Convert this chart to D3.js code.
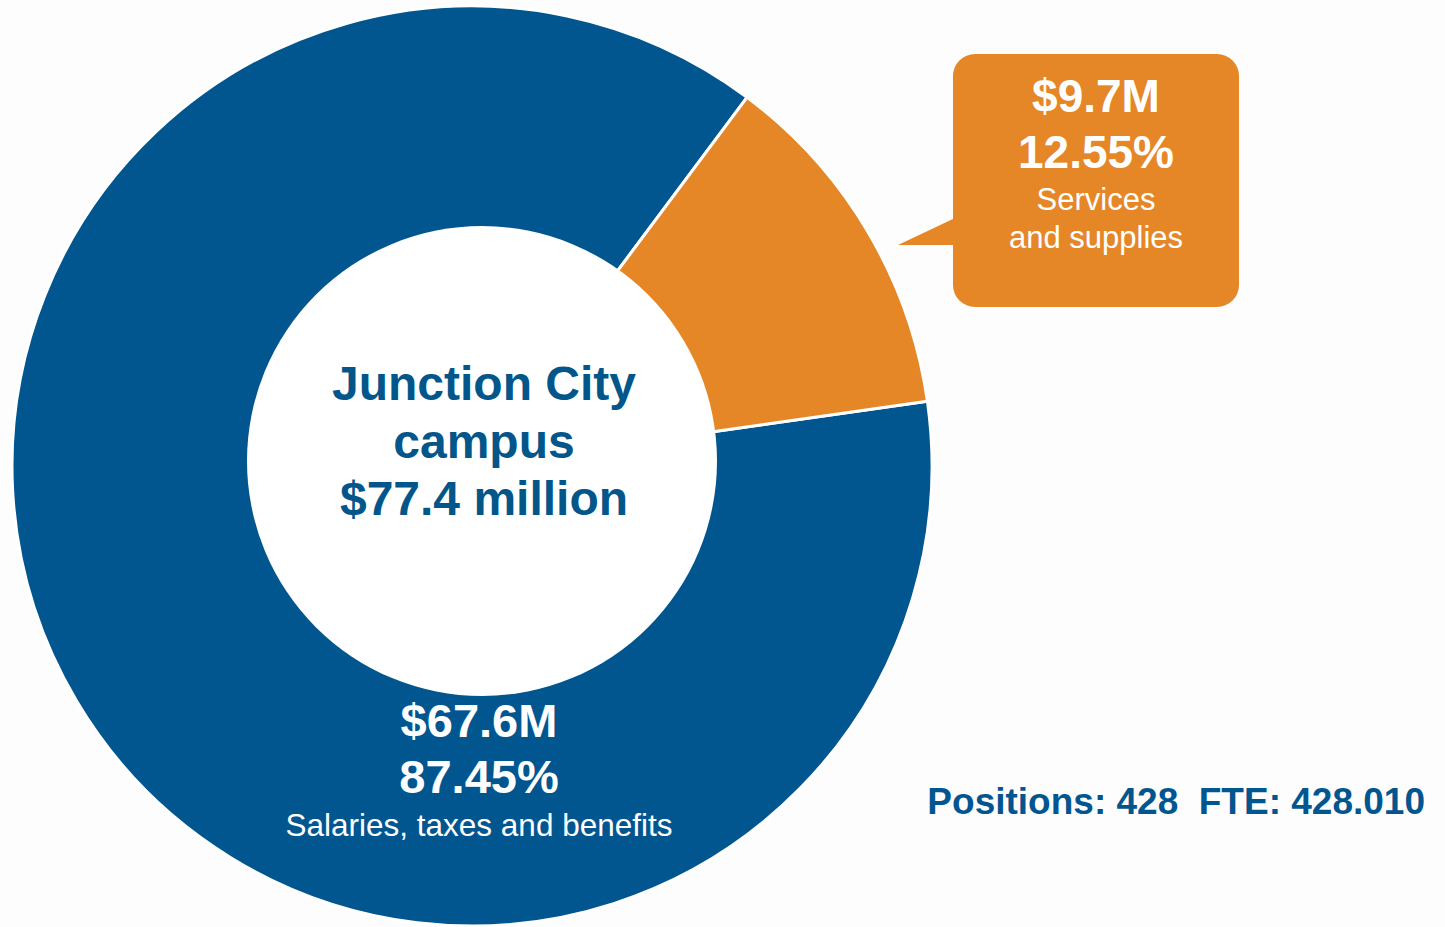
<!DOCTYPE html>
<html>
<head>
<meta charset="utf-8">
<script src="https://cdn.jsdelivr.net/npm/d3@7"></script>
<style>
  body { margin: 0; background: #fdfdfd; }
  svg { display: block; font-family: "Liberation Sans", Arial, sans-serif; }
  .pre { white-space: pre; }
</style>
</head>
<body>
<div id="donut"></div>
<script>
// data
var categories = ['Salaries, taxes and benefits', 'Services and supplies'];
var amounts = ['$67.6M', '$9.7M'];
var percents = [87.45, 12.55];
var centerLines = ['Junction City', 'campus', '$77.4 million'];
var footer = 'Positions: 428  FTE: 428.010';

var width = 1445,
    height = 927;

var cx = 472, cy = 466,
    outerR = 460,
    holeX = 482, holeY = 461, holeR = 235;

var color = d3.scaleOrdinal()
    .domain(categories)
    .range(['#02568f', '#e68727']);

var svg = d3.select('#donut').append('svg')
    .attr('width', width)
    .attr('height', height);

var deg = Math.PI / 180;
var pie = d3.pie()
    .sort(null)
    .value(function(d) { return d.value; })
    .startAngle(81.9 * deg)
    .endAngle(81.9 * deg + 2 * Math.PI);

var arc = d3.arc()
    .innerRadius(0)
    .outerRadius(outerR);

var slices = pie(categories.map(function(c, i) {
  return {key: c, value: percents[i]};
}));

var g = svg.append('g')
    .attr('transform', 'translate(' + cx + ',' + cy + ')');

g.selectAll('path')
  .data(slices)
    .enter().append('path')
  .attr('d', arc)
  .style('fill', function(d) { return color(d.data.key); })
  .style('stroke', '#fff')
  .style('stroke-width', 3)
  .style('stroke-linejoin', 'miter');

// white hole (sits a little off centre, as in the original)
svg.append('circle')
  .attr('cx', holeX)
  .attr('cy', holeY)
  .attr('r', holeR)
  .style('fill', '#fff');

// centre title
svg.append('text')
  .attr('text-anchor', 'middle')
  .style('fill', '#03568a')
  .style('font-weight', 'bold')
  .style('font-size', '48px')
  .selectAll('tspan')
  .data(centerLines)
    .enter().append('tspan')
  .attr('x', 484)
  .attr('y', function(d, i) { return 400 + i * 57.5; })
  .text(function(d) { return d; });

// salaries label inside the blue ring
var big = svg.append('text')
  .attr('text-anchor', 'middle')
  .style('fill', '#fff');
big.append('tspan')
  .attr('x', 479).attr('y', 737)
  .style('font-weight', 'bold').style('font-size', '47px')
  .text(amounts[0]);
big.append('tspan')
  .attr('x', 479).attr('y', 793)
  .style('font-weight', 'bold').style('font-size', '47px')
  .text(d3.format('.2f')(percents[0]) + '%');
big.append('tspan')
  .attr('x', 479).attr('y', 836)
  .style('font-size', '31.5px')
  .text(categories[0]);

// callout for services and supplies
var callout = svg.append('g');
callout.append('rect')
  .attr('x', 953).attr('y', 54)
  .attr('width', 286).attr('height', 253)
  .attr('rx', 22)
  .style('fill', color(categories[1]));
callout.append('path')
  .attr('d', 'M955,218L898,245L955,245Z')
  .style('fill', color(categories[1]));

var small = callout.append('text')
  .attr('text-anchor', 'middle')
  .style('fill', '#fff');
small.append('tspan')
  .attr('x', 1096).attr('y', 112)
  .style('font-weight', 'bold').style('font-size', '46px')
  .text(amounts[1]);
small.append('tspan')
  .attr('x', 1096).attr('y', 168)
  .style('font-weight', 'bold').style('font-size', '46px')
  .text(d3.format('.2f')(percents[1]) + '%');
small.append('tspan')
  .attr('x', 1096).attr('y', 210)
  .style('font-size', '31px')
  .text('Services');
small.append('tspan')
  .attr('x', 1096).attr('y', 248)
  .style('font-size', '31px')
  .text('and supplies');

// staffing line
svg.append('text')
  .attr('class', 'pre')
  .attr('x', 1425)
  .attr('y', 814)
  .attr('text-anchor', 'end')
  .style('fill', '#02568f')
  .style('font-weight', 'bold')
  .style('font-size', '37px')
  .text(footer);
</script>
</body>
</html>
